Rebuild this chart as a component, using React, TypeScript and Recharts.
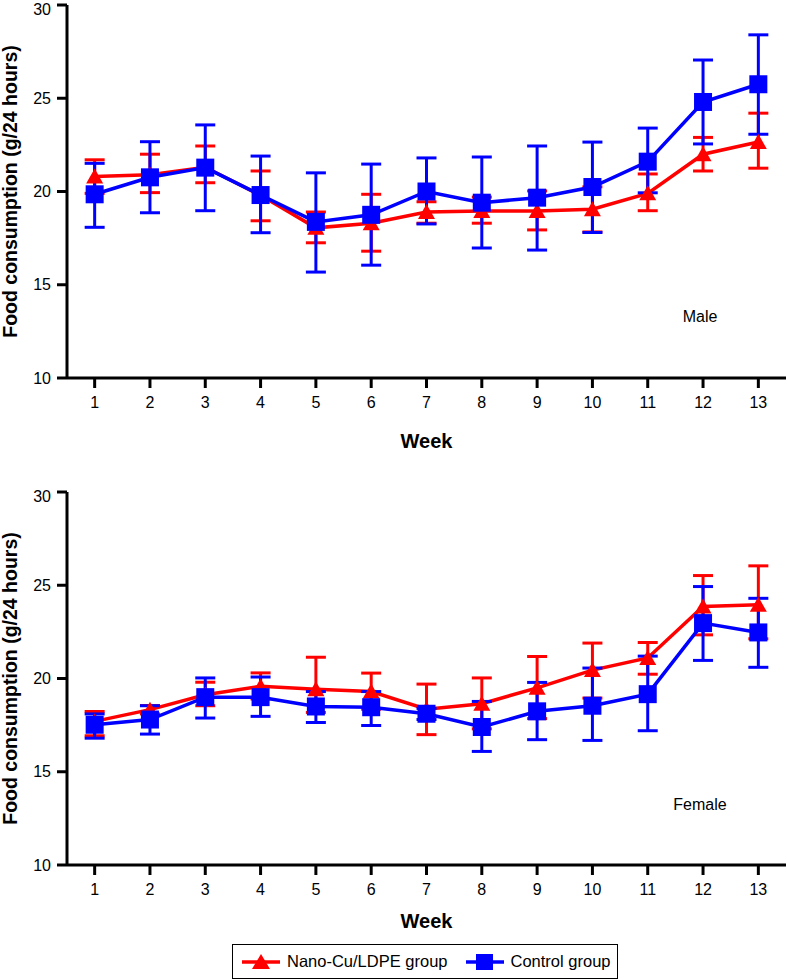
import React from "react";
import { LineChart, Line, XAxis, YAxis, ErrorBar, Legend } from "recharts";

const weeks = [1, 2, 3, 4, 5, 6, 7, 8, 9, 10, 11, 12, 13];
const yTicks = [10, 15, 20, 25, 30];
const seriesNames = ["Nano-Cu/LDPE group", "Control group"];

// Male
const maleNanoMean = [20.8, 20.9, 21.3, 19.8, 18.05, 18.3, 18.9, 18.95, 18.95, 19.05, 19.9, 22.0, 22.65];
const maleNanoUpper = [21.7, 22.0, 22.44, 21.1, 18.9, 19.85, 19.45, 19.7, 20.03, 20.25, 20.94, 22.9, 24.2];
const maleNanoLower = [19.9, 19.94, 20.47, 18.43, 17.25, 16.8, 18.3, 18.3, 17.94, 17.83, 18.97, 21.1, 21.25];
const maleCtrlMean = [19.85, 20.76, 21.28, 19.81, 18.37, 18.75, 20.0, 19.4, 19.67, 20.24, 21.6, 24.8, 25.75];
const maleCtrlUpper = [21.51, 22.67, 23.57, 21.9, 21.0, 21.47, 21.8, 21.85, 22.44, 22.65, 23.4, 27.05, 28.4];
const maleCtrlLower = [18.08, 18.86, 18.97, 17.79, 15.68, 16.05, 18.26, 16.97, 16.86, 17.8, 19.93, 22.55, 23.07];

// Female
const femNanoMean = [17.7, 18.33, 19.13, 19.58, 19.43, 19.3, 18.35, 18.65, 19.5, 20.45, 21.1, 23.86, 23.95];
const femNanoUpper = [18.23, 18.55, 19.8, 20.3, 21.14, 20.29, 19.7, 20.03, 21.18, 21.9, 21.93, 25.52, 26.04];
const femNanoLower = [16.93, 18.1, 18.54, 18.9, 18.18, 18.35, 16.99, 17.3, 17.85, 18.95, 20.23, 22.34, 22.13];
const femCtrlMean = [17.52, 17.8, 19.0, 19.0, 18.5, 18.46, 18.11, 17.4, 18.24, 18.54, 19.16, 22.97, 22.47];
const femCtrlUpper = [18.1, 18.54, 20.03, 20.08, 19.3, 19.3, 18.4, 18.77, 19.79, 20.56, 21.2, 24.93, 24.3];
const femCtrlLower = [16.8, 17.02, 17.88, 17.97, 17.64, 17.48, 17.8, 16.09, 16.72, 16.68, 17.2, 20.97, 20.6];

const RED = "#ff0000";
const BLUE = "#0000ff";
const FONT = "Arial, 'Liberation Sans', sans-serif";

function buildRows(nm: number[], nu: number[], nl: number[], cm: number[], cu: number[], cl: number[]) {
  return weeks.map((w, i) => ({
    week: w,
    nano: nm[i],
    nanoErr: [nm[i] - nl[i], nu[i] - nm[i]],
    ctrl: cm[i],
    ctrlErr: [cm[i] - cl[i], cu[i] - cm[i]],
  }));
}

const maleRows = buildRows(maleNanoMean, maleNanoUpper, maleNanoLower, maleCtrlMean, maleCtrlUpper, maleCtrlLower);
const femaleRows = buildRows(femNanoMean, femNanoUpper, femNanoLower, femCtrlMean, femCtrlUpper, femCtrlLower);

const TriangleDot = (props: any) => {
  const { cx, cy } = props;
  if (cx == null || cy == null) return null;
  return <polygon key={`t-${props.index}`} points={`${cx},${cy - 8} ${cx + 8.5},${cy + 7} ${cx - 8.5},${cy + 7}`} fill={RED} />;
};

const SquareDot = (props: any) => {
  const { cx, cy } = props;
  if (cx == null || cy == null) return null;
  return <rect key={`s-${props.index}`} x={cx - 9} y={cy - 9} width={18} height={18} fill={BLUE} />;
};

const LegendBox = (props: any) => {
  const payload = [...(props.payload || [])].sort(
    (a: any, b: any) => seriesNames.indexOf(a.value) - seriesNames.indexOf(b.value)
  );
  return (
    <div
      style={{
        border: "1px solid #000",
        height: 35,
        boxSizing: "border-box",
        display: "flex",
        alignItems: "center",
        paddingLeft: 8,
        fontFamily: FONT,
        fontSize: 16.5,
        color: "#000",
        background: "#fff",
      }}
    >
      {payload.map((p: any, i: number) => (
        <div key={i} style={{ display: "flex", alignItems: "center", marginRight: i === 0 ? 17 : 0 }}>
          <svg width={40} height={20} style={{ marginRight: 6 }}>
            <line x1={1} y1={10} x2={39} y2={10} stroke={p.color} strokeWidth={3.5} />
            {p.dataKey === "nano" ? (
              <polygon points="20,2 29,17 11,17" fill={p.color} />
            ) : (
              <rect x={11} y={2} width={17} height={16} fill={p.color} />
            )}
          </svg>
          <span>{p.value}</span>
        </div>
      ))}
    </div>
  );
};

const tickStyle = { fill: "#000", fontSize: 16, fontFamily: FONT };

function Panel({ rows, weekOffset, height, bottom, showLegend }: any) {
  return (
    <LineChart
      width={787}
      height={height}
      data={rows}
      margin={{ top: 5, right: 1, left: 0, bottom }}
    >
      <XAxis
        dataKey="week"
        type="number"
        domain={[0.5, 13.5]}
        ticks={weeks}
        interval={0}
        height={72}
        stroke="#000"
        strokeWidth={3}
        tickSize={10}
        tickMargin={9}
        tick={tickStyle}
        tickLine={{ stroke: "#000", strokeWidth: 3 }}
        label={{
          value: "Week",
          position: "insideBottom",
          offset: weekOffset,
          style: { fontSize: 20, fontWeight: "bold", fill: "#000", fontFamily: FONT },
        }}
      />
      <YAxis
        type="number"
        domain={[10, 30]}
        ticks={yTicks}
        width={67}
        stroke="#000"
        strokeWidth={3}
        tickSize={10}
        tickMargin={6}
        tick={tickStyle}
        tickLine={{ stroke: "#000", strokeWidth: 3 }}
        label={{
          value: "Food consumption (g/24 hours)",
          angle: -90,
          position: "insideLeft",
          offset: 10.5,
          style: { textAnchor: "middle", fontSize: 19.5, fontWeight: "bold", fill: "#000", fontFamily: FONT },
        }}
      />
      <Line
        dataKey="nano"
        name={seriesNames[0]}
        stroke={RED}
        strokeWidth={3.5}
        dot={TriangleDot}
        activeDot={false}
        isAnimationActive={false}
      >
        <ErrorBar dataKey="nanoErr" direction="y" width={10} stroke={RED} strokeWidth={3} isAnimationActive={false} />
      </Line>
      <Line
        dataKey="ctrl"
        name={seriesNames[1]}
        stroke={BLUE}
        strokeWidth={3.5}
        dot={SquareDot}
        activeDot={false}
        isAnimationActive={false}
      >
        <ErrorBar dataKey="ctrlErr" direction="y" width={10} stroke={BLUE} strokeWidth={3} isAnimationActive={false} />
      </Line>
      {showLegend && (
        <Legend
          verticalAlign="middle"
          align="center"
          content={<LegendBox />}
          wrapperStyle={{ top: 457, left: 232, width: 386, height: 35, bottom: "auto", right: "auto" }}
        />
      )}
    </LineChart>
  );
}

export default function App() {
  return (
    <div style={{ position: "absolute", left: 0, top: 0, width: 787, height: 980, background: "#fff" }}>
      <div style={{ position: "absolute", left: 0, top: 0 }}>
        <Panel rows={maleRows} weekOffset={2} height={462} bottom={12} showLegend={false} />
      </div>
      <div style={{ position: "absolute", left: 0, top: 487 }}>
        <Panel rows={femaleRows} weekOffset={9} height={493} bottom={43} showLegend={true} />
      </div>
      <div style={{ position: "absolute", left: 650, width: 100, top: 308, textAlign: "center", fontFamily: FONT, fontSize: 16 }}>
        Male
      </div>
      <div style={{ position: "absolute", left: 650, width: 100, top: 796, textAlign: "center", fontFamily: FONT, fontSize: 16 }}>
        Female
      </div>
    </div>
  );
}
